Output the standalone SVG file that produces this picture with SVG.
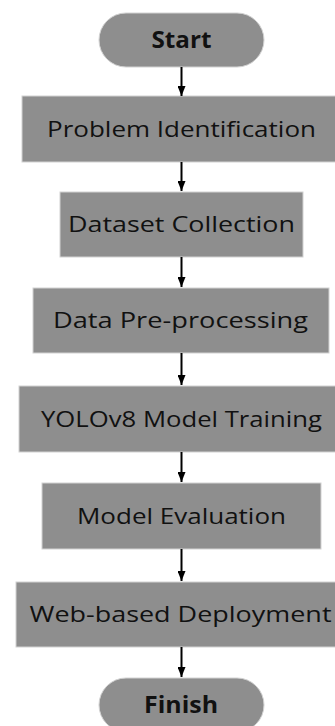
<svg xmlns="http://www.w3.org/2000/svg" width="335" height="726" viewBox="0 0 335 726">
  <style>
    .box { fill: #8e8e8e; stroke: #d2d2d2; stroke-width: 1; }
    .lbl { font-family: "Open Sans", "Liberation Sans", sans-serif; font-size: 22px; fill: #111111; text-anchor: middle; }
    .term { font-family: "Open Sans", "Liberation Sans", sans-serif; font-size: 23px; font-weight: 700; fill: #111111; text-anchor: middle; }
    .edge { stroke: #000000; stroke-width: 2; fill: none; }
  </style>
  <defs>
    <marker id="arrow" markerUnits="userSpaceOnUse" markerWidth="10" markerHeight="8" refX="10" refY="4" orient="auto">
      <path d="M0,0 L10,4 L0,8 Z" fill="#000000"/>
    </marker>
  </defs>
  <rect width="335" height="726" fill="#ffffff"/>

  <g id="start">
    <rect class="box" x="99" y="13" width="165" height="54" rx="27" ry="27"/>
    <text class="term" x="181.5" y="48" textLength="60" lengthAdjust="spacingAndGlyphs">Start</text>
  </g>
  <g id="problem-identification">
    <rect class="box" x="22" y="96" width="320" height="66"/>
    <text class="lbl" x="181.5" y="137" textLength="269" lengthAdjust="spacingAndGlyphs">Problem Identification</text>
  </g>
  <g id="dataset-collection">
    <rect class="box" x="60" y="192" width="243" height="65"/>
    <text class="lbl" x="181.5" y="232" textLength="227" lengthAdjust="spacingAndGlyphs">Dataset Collection</text>
  </g>
  <g id="data-preprocessing">
    <rect class="box" x="33" y="288" width="296" height="65"/>
    <text class="lbl" x="180.5" y="328" textLength="255" lengthAdjust="spacingAndGlyphs">Data Pre-processing</text>
  </g>
  <g id="model-training">
    <rect class="box" x="19" y="386" width="323" height="66"/>
    <text class="lbl" x="181.5" y="427" textLength="281" lengthAdjust="spacingAndGlyphs">YOLOv8 Model Training</text>
  </g>
  <g id="model-evaluation">
    <rect class="box" x="42" y="483" width="279" height="66"/>
    <text class="lbl" x="181.5" y="524" textLength="209" lengthAdjust="spacingAndGlyphs">Model Evaluation</text>
  </g>
  <g id="web-deployment">
    <rect class="box" x="16" y="582" width="326" height="65"/>
    <text class="lbl" x="180.5" y="622" textLength="302" lengthAdjust="spacingAndGlyphs">Web-based Deployment</text>
  </g>
  <g id="finish">
    <rect class="box" x="99" y="678" width="165" height="54" rx="27" ry="27"/>
    <text class="term" x="181" y="713" textLength="74" lengthAdjust="spacingAndGlyphs">Finish</text>
  </g>

  <g id="connectors">
    <line class="edge" x1="181.5" y1="67" x2="181.5" y2="96" marker-end="url(#arrow)"/>
    <line class="edge" x1="181.5" y1="162" x2="181.5" y2="191" marker-end="url(#arrow)"/>
    <line class="edge" x1="181.5" y1="257" x2="181.5" y2="287" marker-end="url(#arrow)"/>
    <line class="edge" x1="181.5" y1="353" x2="181.5" y2="385" marker-end="url(#arrow)"/>
    <line class="edge" x1="181.5" y1="452" x2="181.5" y2="482" marker-end="url(#arrow)"/>
    <line class="edge" x1="181.5" y1="549" x2="181.5" y2="581" marker-end="url(#arrow)"/>
    <line class="edge" x1="181.5" y1="647" x2="181.5" y2="677" marker-end="url(#arrow)"/>
  </g>
</svg>
